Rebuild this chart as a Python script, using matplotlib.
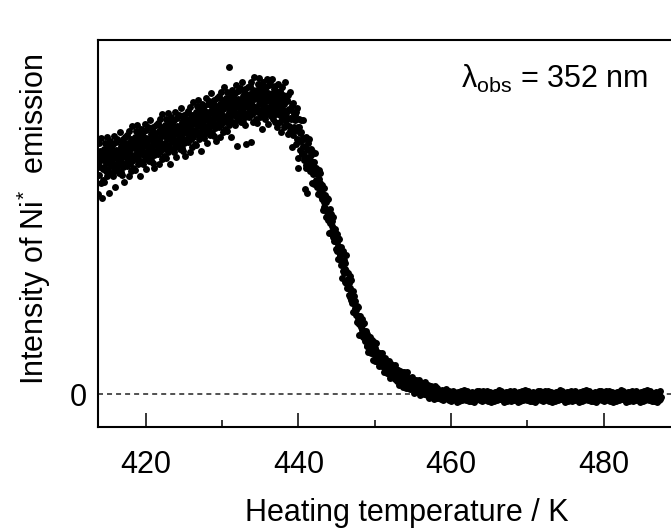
import numpy as np
import matplotlib
matplotlib.use("Agg")
import matplotlib.pyplot as plt

plt.rcParams['font.family'] = ['Liberation Sans', 'DejaVu Sans']
plt.rcParams['mathtext.fontset'] = 'custom'
plt.rcParams['mathtext.rm'] = 'Liberation Sans'
plt.rcParams['mathtext.it'] = 'Liberation Sans:italic'
plt.rcParams['lines.scale_dashes'] = False

# ---- data ----
t_start, t_end = 413.5, 487.45  # heating temperature grid / K (0.05 K steps)

intensity = [
    232, 216, 247, 223, 239, 200, 230, 251, 219, 236, 227, 243, 211, 234, 256, 196, 241, 225, 214, 238,
    227, 245, 212, 236, 251, 223, 240, 231, 257, 218, 243, 225, 234, 248, 201, 238, 221, 253, 229, 242,
    247, 232, 242, 218, 250, 236, 227, 258, 223, 239, 207, 244, 252, 230, 238, 225, 255, 235, 243, 221,
    229, 244, 262, 236, 222, 248, 232, 252, 240, 219, 255, 227, 243, 212, 249, 246, 237, 257, 231, 239,
    244, 228, 259, 235, 251, 218, 242, 263, 231, 248, 239, 255, 223, 246, 268, 233, 253, 237, 226, 250,
    239, 257, 224, 248, 263, 235, 252, 243, 269, 230, 255, 237, 246, 260, 218, 250, 233, 265, 241, 254,
    259, 244, 254, 230, 262, 248, 239, 270, 235, 251, 225, 256, 264, 242, 250, 237, 267, 247, 255, 233,
    241, 256, 274, 248, 234, 260, 244, 264, 252, 231, 267, 239, 255, 226, 261, 258, 249, 269, 243, 251,
    256, 240, 271, 247, 263, 230, 254, 275, 243, 260, 251, 267, 235, 258, 280, 245, 265, 249, 238, 262,
    251, 269, 236, 260, 275, 247, 264, 255, 281, 242, 267, 249, 258, 272, 230, 262, 245, 277, 253, 266,
    271, 256, 266, 242, 274, 260, 251, 282, 247, 263, 237, 268, 276, 254, 262, 249, 279, 259, 267, 245,
    253, 268, 286, 260, 246, 272, 256, 276, 264, 243, 279, 251, 267, 238, 273, 270, 261, 281, 255, 263,
    268, 252, 283, 259, 275, 242, 266, 287, 255, 272, 263, 279, 247, 270, 292, 257, 277, 261, 250, 274,
    264, 282, 249, 273, 288, 260, 277, 268, 294, 255, 280, 262, 271, 285, 243, 275, 258, 290, 266, 279,
    285, 270, 280, 256, 288, 274, 265, 296, 261, 277, 251, 282, 290, 268, 276, 263, 293, 273, 281, 259,
    268, 283, 301, 275, 261, 287, 271, 291, 279, 258, 294, 266, 282, 253, 288, 285, 276, 296, 270, 278,
    283, 267, 298, 274, 290, 257, 281, 302, 270, 287, 278, 294, 262, 285, 307, 272, 292, 276, 265, 289,
    278, 296, 263, 287, 302, 274, 291, 282, 327, 269, 294, 276, 285, 299, 257, 289, 272, 304, 280, 293,
    298, 283, 293, 269, 301, 287, 278, 309, 274, 290, 248, 295, 303, 281, 289, 276, 306, 286, 294, 272,
    279, 294, 312, 286, 272, 298, 282, 302, 290, 269, 305, 277, 293, 250, 299, 296, 287, 307, 281, 289,
    293, 277, 308, 284, 300, 252, 291, 312, 280, 297, 288, 304, 272, 295, 317, 282, 302, 286, 275, 299,
    286, 304, 271, 295, 310, 282, 299, 290, 316, 277, 302, 284, 293, 307, 265, 297, 280, 312, 288, 301,
    304, 289, 299, 275, 307, 293, 284, 315, 280, 296, 270, 301, 309, 287, 295, 282, 312, 292, 300, 278,
    282, 297, 315, 289, 275, 301, 285, 305, 293, 272, 308, 280, 296, 267, 302, 299, 290, 310, 284, 292,
    288, 272, 303, 279, 295, 262, 286, 307, 275, 292, 283, 299, 267, 290, 312, 277, 297, 281, 270, 294,
    275, 293, 260, 284, 299, 268, 285, 276, 302, 263, 284, 266, 275, 289, 247, 276, 259, 291, 267, 280,
    279, 264, 274, 250, 282, 264, 255, 286, 226, 267, 236, 267, 275, 253, 261, 244, 274, 254, 262, 240,
    241, 256, 274, 248, 234, 255, 239, 205, 247, 226, 257, 229, 245, 201, 251, 244, 235, 255, 229, 237,
    234, 223, 245, 228, 239, 211, 228, 243, 220, 232, 221, 232, 210, 226, 241, 212, 226, 214, 207, 224,
    209, 220, 200, 215, 224, 201, 211, 206, 221, 198, 206, 195, 201, 209, 184, 197, 187, 206, 192, 199,
    195, 186, 192, 177, 196, 182, 177, 195, 174, 184, 161, 180, 185, 171, 176, 162, 180, 168, 173, 160,
    157, 166, 177, 161, 153, 162, 153, 165, 158, 145, 160, 143, 152, 135, 156, 148, 143, 155, 139, 144,
    138, 129, 147, 133, 142, 116, 130, 143, 123, 134, 121, 131, 112, 125, 139, 111, 123, 113, 106, 121,
    106, 115, 99, 111, 118, 97, 106, 101, 114, 94, 100, 91, 96, 103, 82, 91, 82, 98, 86, 93,
    87, 79, 84, 72, 88, 76, 72, 87, 70, 78, 59, 74, 78, 67, 71, 60, 75, 64, 69, 58,
    57, 63, 71, 60, 53, 61, 54, 63, 57, 48, 60, 48, 55, 42, 57, 52, 48, 57, 45, 49,
    48, 41, 54, 44, 51, 34, 44, 52, 40, 46, 40, 46, 33, 43, 51, 34, 42, 36, 32, 41,
    33, 39, 28, 36, 41, 29, 35, 32, 41, 28, 35, 28, 31, 36, 22, 31, 25, 36, 28, 32,
    31, 26, 29, 21, 32, 25, 22, 33, 20, 26, 16, 27, 30, 22, 25, 18, 29, 22, 24, 17,
    17, 23, 29, 20, 15, 23, 18, 25, 20, 13, 24, 14, 19, 9, 22, 19, 16, 23, 14, 17,
    17, 11, 22, 14, 19, 7, 15, 22, 11, 17, 12, 18, 6, 14, 22, 9, 16, 10, 6, 15,
    9, 15, 5, 12, 16, 7, 12, 9, 17, 6, 12, 7, 9, 13, 1, 10, 4, 14, 7, 11,
    11, 7, 10, 3, 12, 7, 4, 14, 3, 8, -1, 8, 11, 4, 7, 2, 11, 5, 6, 0,
    2, 7, 12, 4, 0, 7, 2, 8, 4, -2, 9, 0, 5, -4, 7, 5, 2, 8, 1, 3,
    4, -1, 5, 1, 6, -5, 2, 8, -1, 4, 1, 6, -4, 3, 6, -2, 4, -1, -4, 3,
    1, -3, 3, -5, 0, -2, 4, -4, -1, 2, -6, 1, -2, 3, -4, 0, 2, -3, 5, -1,
    -3, 1, -5, -1, 3, -6, 0, -2, 2, -4, -1, -7, 1, -3, 0, 3, -5, -1, -4, 2,
    1, -3, -2, -6, 0, -8, -4, 2, -5, -1, -3, 1, -7, -2, 0, -5, 3, -4, -6, -1,
    -5, -1, 1, -3, 4, -4, -2, 0, -6, 2, -3, -1, 3, -5, -2, 1, -7, 0, -3, -1,
    -1, -5, 1, -7, -2, -4, 2, -6, -3, 0, -8, -1, -4, 1, -6, -2, 0, -5, 3, -3,
    -3, 1, -5, -1, 3, -6, 0, -2, 2, -4, -1, -7, 1, -3, 0, 3, -5, -1, -4, 2,
    -1, -6, -4, 3, -5, 0, -2, -7, 1, -3, -1, -5, 2, -4, -8, 0, -6, -2, -3, 1,
    -1, -3, 0, -7, 1, -2, 2, -5, -1, -3, 2, -6, 0, -2, -4, 4, -3, 1, -1, -5,
    -3, 3, -5, 0, -2, -6, 1, -4, -1, -8, 0, -3, -6, 2, -4, -2, -7, 1, -5, -1,
    2, -4, -1, -5, 3, 0, -3, 1, -7, -1, -4, 2, -2, 0, -6, 3, -1, -5, 1, -3,
    1, -3, -2, -6, 0, -8, -4, 2, -5, -1, -3, 1, -7, -2, 0, -5, 3, -4, -6, -1,
    -5, -1, 1, -3, 4, -4, -2, 0, -6, 2, -3, -1, 3, -5, -2, 1, -7, 0, -3, -1,
    -1, -5, 1, -7, -2, -4, 2, -6, -3, 0, -8, -1, -4, 1, -6, -2, 0, -5, 3, -3,
    -3, 1, -5, -1, 3, -6, 0, -2, 2, -4, -1, -7, 1, -3, 0, 3, -5, -1, -4, 2,
    -1, -6, -4, 3, -5, 0, -2, -7, 1, -3, -1, -5, 2, -4, -8, 0, -6, -2, -3, 1,
    -1, -3, 0, -7, 1, -2, 2, -5, -1, -3, 2, -6, 0, -2, -4, 4, -3, 1, -1, -5,
    -3, 3, -5, 0, -2, -6, 1, -4, -1, -8, 0, -3, -6, 2, -4, -2, -7, 1, -5, -1,
    2, -4, -1, -5, 3, 0, -3, 1, -7, -1, -4, 2, -2, 0, -6, 3, -1, -5, 1, -3,
    1, -3, -2, -6, 0, -8, -4, 2, -5, -1, -3, 1, -7, -2, 0, -5, 3, -4, -6, -1,
    -5, -1, 1, -3, 4, -4, -2, 0, -6, 2, -3, -1, 3, -5, -2, 1, -7, 0, -3, -1,
    -1, -5, 1, -7, -2, -4, 2, -6, -3, 0, -8, -1, -4, 1, -6, -2, 0, -5, 3, -3,
    -3, 1, -5, -1, 3, -6, 0, -2, 2, -4, -1, -7, 1, -3, 0, 3, -5, -1, -4, 2,
    -1, -6, -4, 3, -5, 0, -2, -7, 1, -3, -1, -5, 2, -4, -8, 0, -6, -2, -3, 1,
    -1, -3, 0, -7, 1, -2, 2, -5, -1, -3, 2, -6, 0, -2, -4, 4, -3, 1, -1, -5,
    -3, 3, -5, 0, -2, -6, 1, -4, -1, -8, 0, -3, -6, 2, -4, -2, -7, 1, -5, -1,
    2, -4, -1, -5, 3, 0, -3, 1, -7, -1, -4, 2, -2, 0, -6, 3, -1, -5, 1, -3,
    1, -3, -2, -6, 0, -8, -4, 2, -5, -1, -3, 1, -7, -2, 0, -5, 3, -4, -6, -1,
    -5, -1, 1, -3, 4, -4, -2, 0, -6, 2, -3, -1, 3, -5, -2, 1, -7, 0, -3, -1,
    -1, -5, 1, -7, -2, -4, 2, -6, -3, 0, -8, -1, -4, 1, -6, -2, 0, -5, 3, -3,
]
temperature = np.linspace(t_start, t_end, len(intensity))

x_major = [420, 440, 460, 480]
x_minor = [430, 450, 470, 490]
y_ticks = [0]
y_ticklabels = ["0"]

# ---- figure ----
W, H = 671, 530
fig = plt.figure(figsize=(W / 100, H / 100), dpi=100)
left, right, top, bottom = 98, 680, 40, 426.7
ax = fig.add_axes([left / W, 1 - bottom / H, (right - left) / W, (bottom - top) / H])

ax.set_xlim(413.75, 413.75 + (right - left) / 8.0)
ax.set_ylim(-32.4, 354.3)

ax.axhline(0, color='#222222', lw=1.1, dashes=(3.6, 2.9), zorder=1)
ax.plot(temperature, intensity, 'o', color='black', ms=5.0, mew=0, zorder=2)

ax.spines['right'].set_visible(False)
for s in ['left', 'bottom', 'top']:
    ax.spines[s].set_linewidth(1.5)

ax.set_xticks(x_major)
ax.set_xticks(x_minor, minor=True)
ax.tick_params(axis='x', which='major', direction='in', length=9.8, width=1.1,
               labelsize=22, pad=16.5)
ax.tick_params(axis='x', which='minor', direction='in', length=4.8, width=1.1)
ax.set_yticks(y_ticks)
ax.set_yticklabels(y_ticklabels)
ax.tick_params(axis='y', length=0, labelsize=22, pad=8)

fig.text(407 / W, 1 - 521 / H, 'Heating temperature / K', ha='center',
         va='baseline', fontsize=22)
fig.text(34 / W, 1 - 219 / H, r'Intensity of Ni$^{*}$  emission', ha='center',
         va='center', rotation=90, fontsize=22)
fig.text(648 / W, 1 - 88 / H, r'$\mathregular{\lambda_{obs}}$ = 352 nm',
         ha='right', va='baseline', fontsize=22)

fig.savefig('out.png', dpi=100)
